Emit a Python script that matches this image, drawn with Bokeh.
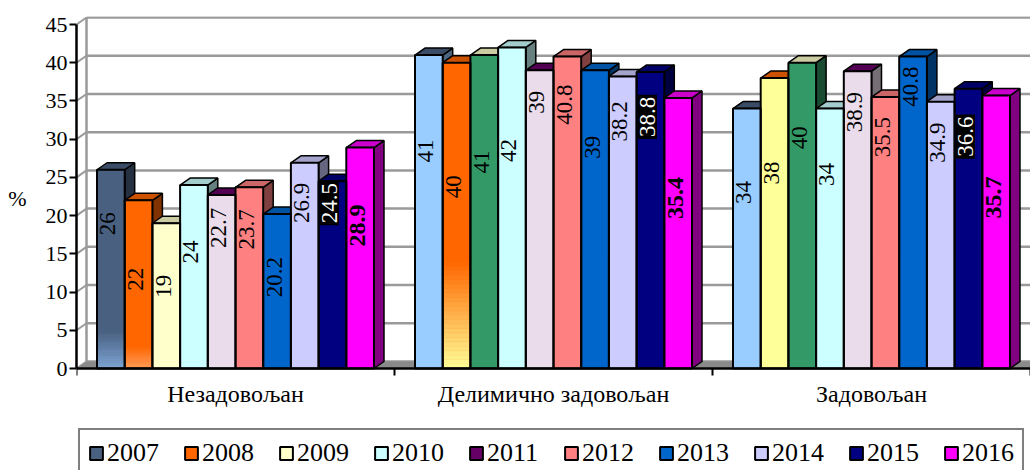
import math
from bokeh.plotting import figure
from bokeh.models import Range1d, FixedTicker, Legend, LegendItem
from bokeh.core.properties import value
from bokeh.embed import file_html
from bokeh.resources import INLINE

# ---------------- data ----------------
categories = ["Незадовољан", "Делимично задовољан", "Задовољан"]
years = ["2007", "2008", "2009", "2010", "2011", "2012", "2013", "2014", "2015", "2016"]
nezadovoljan = [26, 22, 19, 24, 22.7, 23.7, 20.2, 26.9, 24.5, 28.9]
delimicno_zadovoljan = [41, 40, 41, 42, 39, 40.8, 39, 38.2, 38.8, 35.4]
zadovoljan = [34, 38, 40, 34, 38.9, 35.5, 40.8, 34.9, 36.6, 35.7]
values_by_category = [nezadovoljan, delimicno_zadovoljan, zadovoljan]

# ---------------- styles ----------------
series_colors = ["#4A6080", "#FF6600", "#FFFFCC", "#CCFFFF", "#660066",
                 "#FF8080", "#0066CC", "#CCCCFF", "#000080", "#FF00FF"]
front_colors = [
    ["#4A6080", "#FF6600", "#FFFFCC", "#CCFFFF", "#EADCEA", "#FF8080", "#0066CC", "#CCCCFF", "#000080", "#FF00FF"],
    ["#99CCFF", "#FF6600", "#339966", "#CCFFFF", "#EADCEA", "#FF8080", "#0066CC", "#CCCCFF", "#000080", "#FF00FF"],
    ["#99CCFF", "#FFFF99", "#339966", "#CCFFFF", "#EADCEA", "#FF8080", "#0066CC", "#CCCCFF", "#000080", "#FF00FF"],
]
# (category, series) -> (gradient height in value units, colour at top, colour at bottom)
gradients = {
    (0, 0): (5.0, "#4A6080", "#80A8D8"),
    (0, 1): (3.0, "#FF6600", "#FFA060"),
    (1, 1): (14.0, "#FF6600", "#FFFF99"),
}
# distance (px) from the bar's front top edge down to the label centre
label_drop_px = [
    [54, 79, 63, 67, 33, 42, 63, 40, 22, 78],
    [96, 124, 107, 103, 32, 48, 77, 45, 45, 100],
    [84, 95, 75, 66, 41, 40, 30, 41, 48, 102],
]

FONT = "Liberation Serif"
FIG_W, FIG_H = 1030, 470
B_LEFT, B_TOP = 76, 16
ZERO_Y = 368                      # pixel row of value 0
FRAME_H = FIG_H - B_TOP
FRAME_W = FIG_W - B_LEFT
PX_PER_X = FRAME_W / 3.0
PX_PER_Y = 344.0 / 45.0
Y_START = -(FIG_H - ZERO_Y) / PX_PER_Y
Y_END = (ZERO_Y - B_TOP) / PX_PER_Y
DX = 10.0 / PX_PER_X      # 3D depth offsets
DY = 7.0 / PX_PER_Y
BW = 27.7 / PX_PER_X      # bar width


def hex_rgb(h):
    h = h.lstrip("#")
    return tuple(int(h[i:i + 2], 16) for i in (0, 2, 4))


def rgb_hex(c):
    return "#%02X%02X%02X" % tuple(max(0, min(255, int(round(v)))) for v in c)


def shade(h, f):
    return rgb_hex([v * f for v in hex_rgb(h)])


def mix(a, b, t):
    ca, cb = hex_rgb(a), hex_rgb(b)
    return rgb_hex([ca[i] + (cb[i] - ca[i]) * t for i in range(3)])


p = figure(width=FIG_W, height=FIG_H, output_backend="svg", toolbar_location=None,
           x_range=Range1d(0, 3), y_range=Range1d(Y_START, Y_END),
           min_border_left=B_LEFT, min_border_right=0, min_border_top=B_TOP,
           min_border_bottom=0)
p.outline_line_color = None
p.xgrid.visible = False
p.ygrid.visible = False
p.background_fill_color = "white"
p.border_fill_color = "white"

grid_vals = list(range(0, 50, 5))

# back wall, side wall and floor
p.segment(x0=[DX] * len(grid_vals), y0=[g + DY for g in grid_vals],
          x1=[3 + DX] * len(grid_vals), y1=[g + DY for g in grid_vals],
          line_color="#9A9A9A", line_width=2.5)
p.segment(x0=[0] * len(grid_vals), y0=grid_vals,
          x1=[DX] * len(grid_vals), y1=[g + DY for g in grid_vals],
          line_color="#9A9A9A", line_width=2)
p.segment(x0=[DX], y0=[DY], x1=[DX], y1=[45 + DY], line_color="#9A9A9A", line_width=2.5)
p.patch(x=[0, 3, 3 + DX, DX], y=[0, 0, DY, DY], fill_color="#8A8A8A", line_color=None)

# geometry of bars
sides_x, sides_y, sides_c = [], [], []
tops_x, tops_y, tops_c = [], [], []
fr_l, fr_r, fr_t, fr_c = [], [], [], []
bd_l, bd_r, bd_b, bd_t, bd_c = [], [], [], [], []
lab = {"normal": ([], [], []), "bold": ([], [], []), "inv": ([], [], [])}

for ci, vals in enumerate(values_by_category):
    for j, v in enumerate(vals):
        l = ci + 0.5 - 5 * BW + j * BW
        r = l + BW
        fc = front_colors[ci][j]
        sides_x.append([r, r + DX, r + DX, r])
        sides_y.append([0, DY, v + DY, v])
        sides_c.append(shade(fc, 0.5))
        tops_x.append([l, r, r + DX, l + DX])
        tops_y.append([v, v, v + DY, v + DY])
        tops_c.append(shade(series_colors[j], 0.8))
        fr_l.append(l); fr_r.append(r); fr_t.append(v); fr_c.append(fc)
        if (ci, j) in gradients:
            gh, ctop, cbot = gradients[(ci, j)]
            n = 24
            for k in range(n):
                b0 = gh * k / n
                b1 = gh * (k + 1) / n
                bd_l.append(l); bd_r.append(r); bd_b.append(b0); bd_t.append(b1)
                bd_c.append(mix(cbot, ctop, (k + 0.5) / n))
        key = "bold" if j == 9 else ("inv" if j == 8 else "normal")
        lx, ly, lt = lab[key]
        lx.append((l + r) / 2 - 3.0 / PX_PER_X)
        ly.append(v - label_drop_px[ci][j] / PX_PER_Y)
        lt.append(f"{v:g}")

p.patches(xs=sides_x, ys=sides_y, fill_color=sides_c, line_color="black", line_width=1.5)
p.patches(xs=tops_x, ys=tops_y, fill_color=tops_c, line_color="black", line_width=1.5)
p.quad(left=fr_l, right=fr_r, bottom=0, top=fr_t, fill_color=fr_c, line_color=None)
p.quad(left=bd_l, right=bd_r, bottom=bd_b, top=bd_t, fill_color=bd_c, line_color=bd_c, line_width=0.5)
p.quad(left=fr_l, right=fr_r, bottom=0, top=fr_t, fill_color=None, line_color="black", line_width=2)

# labels
lx, ly, lt = lab["normal"]
p.text(x=lx, y=ly, text=lt, angle=math.pi / 2, text_align="center", text_baseline="middle",
       text_font=value(FONT), text_font_size="23px", text_color="black")
lx, ly, lt = lab["bold"]
p.text(x=lx, y=ly, text=lt, angle=math.pi / 2, text_align="center", text_baseline="middle",
       text_font=value(FONT), text_font_size="24px", text_font_style="bold", text_color="black")
lx, ly, lt = lab["inv"]
p.text(x=lx, y=ly, text=lt, angle=math.pi / 2, text_align="center", text_baseline="middle",
       text_font=value(FONT), text_font_size="23px", text_color="white",
       background_fill_color="black", padding=2)

# axes
p.yaxis.ticker = FixedTicker(ticks=grid_vals)
p.yaxis.bounds = (0, 45)
p.yaxis.axis_line_color = "black"
p.yaxis.axis_line_width = 2.5
p.yaxis.major_tick_out = 7
p.yaxis.major_tick_in = 0
p.yaxis.major_tick_line_width = 2
p.yaxis.minor_tick_line_color = None
p.yaxis.major_label_standoff = 2
p.yaxis.major_label_text_font = FONT
p.yaxis.major_label_text_font_size = "22px"
p.yaxis.major_label_text_color = "black"
# trailing blank lines lift the "%" to the middle of the 0-45 scale
p.yaxis.axis_label = "%\n \n \n "
p.yaxis.axis_label_orientation = "horizontal"
p.yaxis.axis_label_text_font = FONT
p.yaxis.axis_label_text_font_size = "22px"
p.yaxis.axis_label_text_font_style = "normal"
p.yaxis.axis_label_text_color = "black"
p.yaxis.axis_label_standoff = 16

p.xaxis.fixed_location = 0
p.xaxis.ticker = FixedTicker(ticks=[0.5, 1.5, 2.5], minor_ticks=[0, 1, 2, 3])
p.xaxis.major_label_overrides = {0.5: categories[0], 1.5: categories[1], 2.5: categories[2]}
p.xaxis.axis_line_color = "black"
p.xaxis.axis_line_width = 2.5
p.xaxis.major_tick_out = 0
p.xaxis.major_tick_in = 0
p.xaxis.minor_tick_out = 7
p.xaxis.minor_tick_in = 0
p.xaxis.minor_tick_line_width = 2
p.xaxis.minor_tick_line_color = "black"
p.xaxis.major_label_standoff = 5
p.xaxis.major_label_text_font = FONT
p.xaxis.major_label_text_font_size = "24px"
p.xaxis.major_label_text_color = "black"

# legend (swatch renderers are hidden copies of each series' first bar)
items = []
for j, y in enumerate(years):
    l0 = 0.5 - 5 * BW + j * BW
    r = p.quad(left=[l0], right=[l0 + BW], bottom=[0], top=[nezadovoljan[j]],
               fill_color=series_colors[j], line_color="black", line_width=2, visible=False)
    items.append(LegendItem(label=y, renderers=[r]))
legend = Legend(items=items, orientation="horizontal", location=(2, -8),
                glyph_width=16, glyph_height=16, label_standoff=3, label_width=52,
                spacing=24, padding=8, margin=0,
                label_text_font=FONT, label_text_font_size="26px", label_text_color="black",
                border_line_color="black", border_line_width=2,
                inactive_fill_alpha=0.0,
                background_fill_color="white", background_fill_alpha=1.0)
p.add_layout(legend, "center")

open("out.html", "w").write(file_html(p, INLINE))
